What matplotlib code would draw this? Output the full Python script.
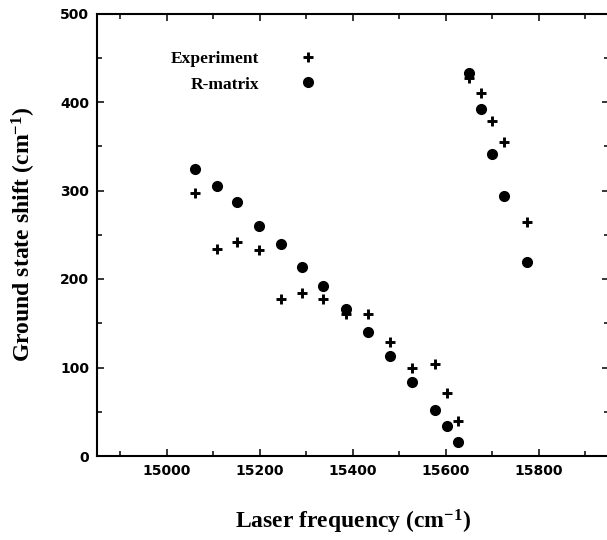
"""Ground state shift vs laser frequency: experiment vs R-matrix."""
import matplotlib
matplotlib.use("Agg")
import matplotlib.pyplot as plt
from matplotlib.ticker import MultipleLocator

plt.rcParams["mathtext.fontset"] = "custom"
plt.rcParams["mathtext.rm"] = "Liberation Serif:bold"
plt.rcParams["mathtext.bf"] = "Liberation Serif:bold"
plt.rcParams["mathtext.default"] = "rm"

# laser frequency (cm-1)
freq = [15060, 15107, 15152, 15198, 15245, 15291, 15337, 15385, 15432, 15480,
        15528, 15577, 15602, 15626, 15650, 15675, 15700, 15725, 15775]
# ground state shift (cm-1)
experiment = [297.5, 233.6, 241.5, 232.8, 177, 184.5, 177, 160.5, 160.5, 128.5,
              99.8, 104, 71.5, 39.5, 426.7, 410.5, 378.2, 354.5, 264.7]
r_matrix = [324.3, 305, 287.3, 260, 239.5, 213.6, 192.4, 166.1, 140.1, 113.3,
            84, 51.6, 34.2, 15.5, 433.1, 392.4, 341.6, 293.4, 218.9]

SERIF = "Liberation Serif"
TICKFONT = "DejaVu Sans"


def main():
    fig = plt.figure(figsize=(6.07, 5.40), dpi=100)
    # right spine sits just past the image edge, like the scanned original
    ax = fig.add_axes([97 / 607, 84 / 540, (608.5 - 97) / 607, (456 - 13.5) / 540])

    ax.plot(freq, experiment, linestyle="none", marker="+", ms=7.5, mew=2.1,
            color="black", label="Experiment")
    ax.plot(freq, r_matrix, linestyle="none", marker="o", ms=7,
            color="black", label="R-matrix")

    ax.set_xlim(14850, 15950)
    ax.set_ylim(0, 500)
    ax.xaxis.set_major_locator(MultipleLocator(200))
    ax.xaxis.set_minor_locator(MultipleLocator(100))
    ax.yaxis.set_major_locator(MultipleLocator(100))
    ax.yaxis.set_minor_locator(MultipleLocator(50))

    ax.tick_params(which="both", direction="in", top=True, right=True, width=1.1)
    ax.tick_params(which="major", length=5, pad=5.5)
    ax.tick_params(which="minor", length=3.5)
    for lab in ax.get_xticklabels() + ax.get_yticklabels():
        lab.set_fontfamily(TICKFONT)
        lab.set_fontweight("bold")
        lab.set_fontsize(10)
    for sp in ax.spines.values():
        sp.set_linewidth(1.5)

    ax.set_xlabel(r"Laser frequency (cm$^{-1}$)", family=SERIF, fontweight="bold",
                  fontsize=17, labelpad=22)
    ax.set_ylabel(r"Ground state shift (cm$^{-1}$)", family=SERIF, fontweight="bold",
                  fontsize=17, labelpad=16)

    ax.legend(loc="upper left", bbox_to_anchor=(0.145, 0.916), frameon=False,
              markerfirst=False, handlelength=1.0, handletextpad=2.3,
              labelspacing=0.55, borderpad=0, borderaxespad=0,
              prop={"family": SERIF, "weight": "bold", "size": 12.5})

    fig.savefig("out.png", dpi=100, facecolor="white")


if __name__ == "__main__":
    main()
